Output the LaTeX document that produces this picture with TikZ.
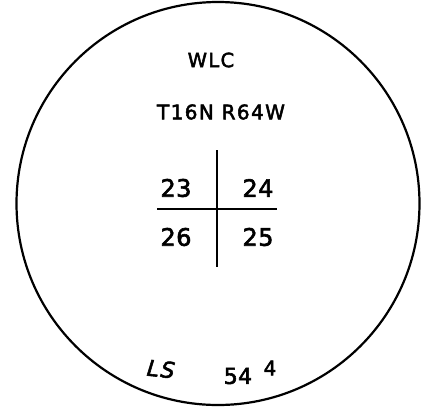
\documentclass[tikz,border=0pt]{standalone}
\usepackage{fontspec}
\usepackage{tikz}
\usetikzlibrary{positioning}
\newfontfamily\plotfont[LetterSpace=7, FakeBold=2.5]{DejaVu Sans}
\newfontfamily\numfont[LetterSpace=2, FakeBold=2.5]{DejaVu Sans}

\begin{document}
\begin{tikzpicture}[
      x=1pt, y=-1pt,
      label/.style={font=\plotfont\fontsize{20}{20}\selectfont, inner sep=0pt},
      section/.style={font=\numfont\fontsize{24}{24}\selectfont, inner sep=0pt},
      small/.style={font=\numfont\fontsize{20}{20}\selectfont, inner sep=0pt},
      rule/.style={line width=2.2pt},
      ring/.style={circle, draw, line width=2.2pt, minimum size=403pt, inner sep=0pt}
  ]
    \useasboundingbox (0,0) rectangle (429,408);
    \node[ring](rim) at (218,203.5){};
    \node[label, font=\plotfont\fontsize{19.5}{19.5}\selectfont](owner) at (211,60){WLC};
    \node[label](twp) at (221,112){T16N R64W};
    % section cross
    \coordinate(ntop) at (217,150); \coordinate(nbot) at (217,267);
    \coordinate(west) at (157,209); \coordinate(east) at (277,209);
    \draw[rule](ntop)--(nbot);
    \draw[rule](west)--(east);
    \node[section](s23) at (176,188){23};
    \node[section](s24) at (258,188){24};
    \node[section](s26) at (176,237){26};
    \node[section](s25) at (258,237){25};
    \node[label, font=\plotfont\itshape\fontsize{22}{22}\selectfont, rotate=-6](ls) at (161,369){LS};
    \node[section, font=\numfont\fontsize{22}{22}\selectfont](num) at (238,376){54};
    \node[small](sup) at (270,368){4};
  \end{tikzpicture}
\end{document}
